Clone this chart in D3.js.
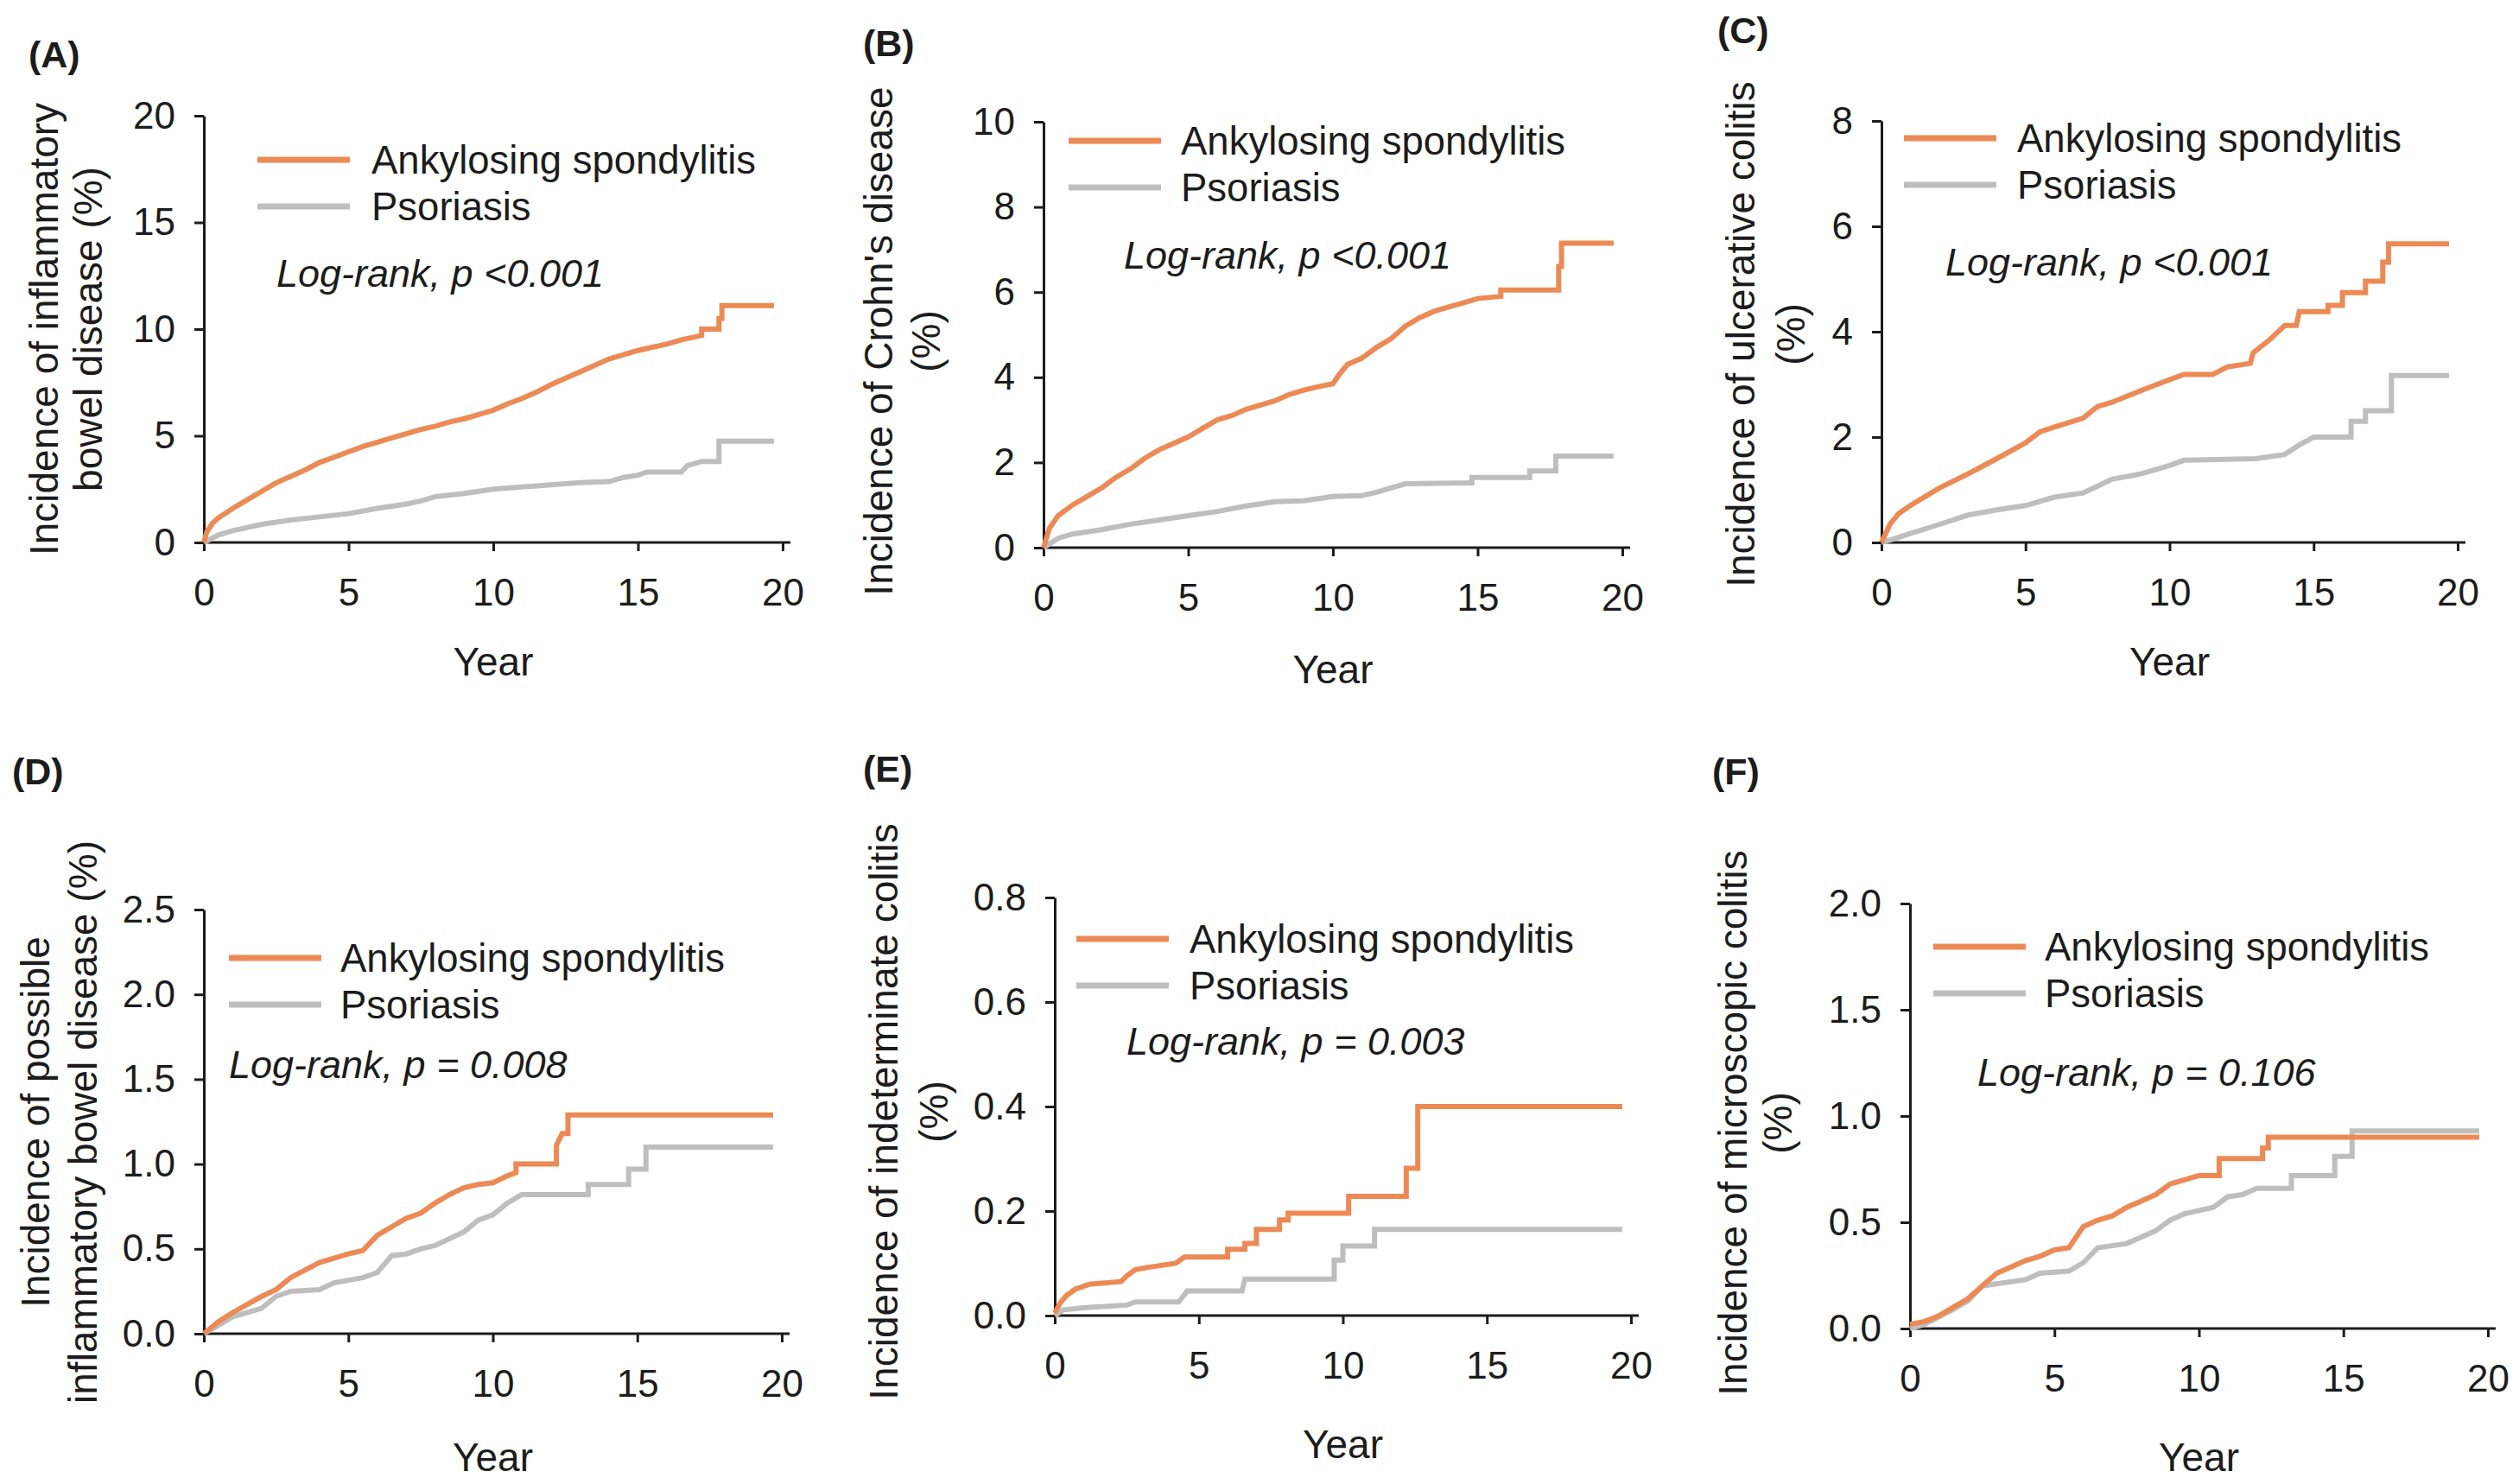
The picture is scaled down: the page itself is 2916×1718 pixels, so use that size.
<!DOCTYPE html>
<html>
<head>
<meta charset="utf-8">
<script src="https://cdn.jsdelivr.net/npm/d3@7"></script>
<style>
  body { margin: 0; background: #fff; }
  svg { display: block; font-family: 'Liberation Sans', Arial, sans-serif; }
</style>
</head>
<body>
<svg id="chart" width="2916" height="1718"></svg>
<script>
// cumulative incidence (%), [year, value]
const ibdAS = [[0,0],[0.1,0.5],[0.3,0.9],[0.5,1.15],[1,1.6],[1.5,2.0],[2,2.4],[2.5,2.8],[3,3.1],[3.5,3.4],[4,3.75],[4.5,4.0],[5,4.25],[5.5,4.5],[6,4.7],[6.5,4.9],[7,5.1],[7.5,5.3],[8,5.45],[8.5,5.65],[9,5.8],[9.5,6.0],[10,6.2],[10.5,6.5],[11,6.75],[11.5,7.05],[12,7.4],[12.5,7.7],[13,8.0],[13.5,8.3],[14,8.6],[14.5,8.8],[15,9.0],[15.5,9.15],[16,9.3],[16.5,9.5],[17.2,9.7],[17.2,10.0],[17.8,10.0],[17.8,10.5],[17.9,10.5],[17.9,11.1],[19.7,11.1]]
const ibdPso = [[0,0],[0.5,0.35],[1,0.55],[2,0.85],[3,1.05],[4,1.2],[5,1.35],[6,1.6],[7,1.8],[7.5,1.95],[8,2.15],[9,2.3],[10,2.5],[11,2.6],[12,2.7],[13,2.8],[14,2.85],[14.5,3.05],[15,3.15],[15.3,3.3],[16.5,3.3],[16.7,3.6],[17.2,3.8],[17.8,3.8],[17.8,4.75],[19.7,4.75]]

const cdAS = [[0,0],[0.2,0.45],[0.5,0.75],[1,1.0],[1.5,1.2],[2,1.4],[2.5,1.65],[3,1.85],[3.5,2.1],[4,2.3],[4.5,2.45],[5,2.6],[5.5,2.8],[6,3.0],[6.5,3.1],[7,3.25],[7.5,3.35],[8,3.45],[8.5,3.6],[9,3.7],[9.5,3.78],[10,3.85],[10.2,4.05],[10.5,4.3],[11,4.45],[11.5,4.7],[12,4.9],[12.5,5.2],[13,5.4],[13.5,5.55],[14,5.65],[14.5,5.75],[15,5.85],[15.8,5.9],[15.8,6.05],[17.8,6.05],[17.8,6.6],[17.9,6.6],[17.9,7.15],[19.7,7.15]]
const cdPso = [[0,0],[0.5,0.22],[1,0.32],[2,0.42],[3,0.55],[4,0.65],[5,0.75],[6,0.85],[7,0.98],[8,1.08],[9,1.1],[10,1.2],[11,1.22],[11.5,1.3],[12.5,1.5],[14.8,1.52],[14.8,1.65],[16.8,1.65],[16.8,1.8],[17.7,1.8],[17.7,2.15],[19.7,2.15]]

const ucAS = [[0,0],[0.3,0.35],[0.6,0.55],[1,0.7],[2,1.03],[3,1.3],[4,1.59],[5,1.89],[5.5,2.1],[6,2.19],[7,2.36],[7.5,2.58],[8,2.66],[9,2.88],[10,3.09],[10.5,3.19],[11.5,3.19],[12,3.33],[12.8,3.4],[12.9,3.6],[13.5,3.86],[14,4.12],[14.4,4.12],[14.5,4.38],[15.5,4.38],[15.5,4.5],[16,4.5],[16,4.74],[16.8,4.74],[16.8,4.96],[17.4,4.96],[17.4,5.32],[17.6,5.32],[17.6,5.67],[19.7,5.67]]
const ucPso = [[0,0],[0.5,0.08],[1,0.17],[2,0.34],[3,0.52],[4,0.62],[5,0.7],[6,0.86],[7,0.94],[7.5,1.07],[8,1.2],[9,1.3],[10,1.46],[10.5,1.56],[13,1.59],[14,1.67],[14.5,1.85],[15,2.0],[16.3,2.0],[16.3,2.3],[16.8,2.3],[16.8,2.5],[17.7,2.5],[17.7,3.17],[19.7,3.17]]

const pibdAS = [[0,0],[0.5,0.07],[1,0.125],[2,0.22],[2.5,0.26],[3,0.33],[4,0.42],[5,0.47],[5.5,0.49],[6,0.58],[6.5,0.63],[7,0.68],[7.5,0.71],[8,0.77],[8.5,0.82],[9,0.86],[9.5,0.88],[10,0.89],[10.5,0.93],[10.8,0.95],[10.8,1.0],[12.2,1.0],[12.2,1.11],[12.4,1.18],[12.6,1.18],[12.6,1.29],[19.7,1.29]]
const pibdPso = [[0,0],[0.5,0.05],[1,0.1],[2,0.15],[2.5,0.22],[3,0.25],[4,0.26],[4.5,0.3],[5.5,0.33],[6,0.36],[6.5,0.46],[7,0.47],[7.5,0.5],[8,0.52],[8.5,0.56],[9,0.6],[9.5,0.67],[10,0.7],[10.5,0.77],[11,0.82],[13.3,0.82],[13.3,0.88],[14.7,0.88],[14.7,0.97],[15.3,0.97],[15.3,1.1],[19.7,1.1]]

const icAS = [[0,0.005],[0.2,0.025],[0.4,0.038],[0.7,0.05],[1.2,0.06],[2.3,0.065],[2.5,0.076],[2.8,0.088],[3.2,0.092],[4.2,0.1],[4.5,0.112],[6,0.112],[6,0.127],[6.6,0.127],[6.6,0.138],[7,0.138],[7,0.165],[7.8,0.165],[7.8,0.183],[8.1,0.183],[8.1,0.196],[10.2,0.196],[10.2,0.228],[12.2,0.228],[12.2,0.282],[12.6,0.282],[12.6,0.4],[19.7,0.4]]
const icPso = [[0,0],[0.3,0.011],[1,0.015],[2.5,0.02],[2.8,0.026],[4.3,0.026],[4.6,0.047],[6.5,0.047],[6.6,0.07],[9.7,0.07],[9.7,0.106],[10,0.106],[10,0.133],[11.1,0.133],[11.1,0.165],[19.7,0.165]]

const mcAS = [[0,0.02],[0.5,0.033],[1,0.06],[1.5,0.1],[2,0.14],[2.5,0.2],[3,0.26],[3.5,0.29],[4,0.32],[4.5,0.34],[5,0.37],[5.5,0.38],[6,0.48],[6.5,0.51],[7,0.53],[7.5,0.57],[8,0.6],[8.5,0.63],[9,0.68],[9.5,0.7],[10,0.72],[10.7,0.72],[10.7,0.8],[12.2,0.8],[12.2,0.85],[12.4,0.85],[12.4,0.9],[19.7,0.9]]
const mcPso = [[0,0],[0.5,0.02],[1,0.055],[1.5,0.09],[2,0.13],[2.5,0.2],[3,0.21],[4,0.23],[4.5,0.26],[5.5,0.27],[6,0.31],[6.5,0.38],[7.5,0.4],[8,0.43],[8.5,0.46],[9,0.51],[9.5,0.54],[10.5,0.57],[11,0.62],[11.5,0.63],[12,0.66],[13.2,0.66],[13.2,0.72],[14.7,0.72],[14.7,0.81],[15.3,0.81],[15.3,0.93],[19.7,0.93]]

const xTicks = [0, 5, 10, 15, 20]
const yTicksA = [0, 5, 10, 15, 20]
const yTicksB = [0, 2, 4, 6, 8, 10]
const yTicksC = [0, 2, 4, 6, 8]
const yTicksD = [0, 0.5, 1.0, 1.5, 2.0, 2.5]
const yTicksE = [0, 0.2, 0.4, 0.6, 0.8]
const yTicksF = [0, 0.5, 1.0, 1.5, 2.0]

const seriesNames = ['Ankylosing spondylitis', 'Psoriasis']
const panelLabels = ['(A)', '(B)', '(C)', '(D)', '(E)', '(F)']
const pTexts = ['Log-rank, p <0.001', 'Log-rank, p <0.001', 'Log-rank, p <0.001',
  'Log-rank, p = 0.008', 'Log-rank, p = 0.003', 'Log-rank, p = 0.106']
const yTitles = [
  ['Incidence of inflammatory', 'bowel disease (%)'],
  ["Incidence of Crohn's disease", '(%)'],
  ['Incidence of ulcerative colitis', '(%)'],
  ['Incidence of possible', 'inflammatory bowel disease (%)'],
  ['Incidence of indeterminate colitis', '(%)'],
  ['Incidence of microscopic colitis', '(%)']
]

const orange = '#EC8A55'
const grey = '#BEBEBE'
const ink = '#1c1c1c'

// layout of each panel in page pixels
const panels = [
  { as: ibdAS, pso: ibdPso, yTicks: yTicksA, fmt: d3.format('d'),
    left: 236, right: 906, bottom: 628, top: 134, lab: [33, 78], titleX: [51, 102], titleY: 381,
    leg: [62, 51, 194], lr: [84, 198], yearY: 766 },
  { as: cdAS, pso: cdPso, yTicks: yTicksB, fmt: d3.format('d'),
    left: 1208, right: 1878, bottom: 634, top: 141, lab: [999, 65], titleX: [1017, 1072], titleY: 395,
    leg: [29, 22, 159], lr: [93, 170], yearY: 775 },
  { as: ucAS, pso: ucPso, yTicks: yTicksC, fmt: d3.format('d'),
    left: 2178, right: 2845, bottom: 628, top: 140, lab: [1988, 50], titleX: [2015, 2073], titleY: 387,
    leg: [26, 20, 157], lr: [74, 179], yearY: 766 },
  { as: pibdAS, pso: pibdPso, yTicks: yTicksD, fmt: d3.format('.1f'),
    left: 236, right: 905, bottom: 1544, top: 1053, lab: [14, 908], titleX: [41, 96], titleY: 1299,
    leg: [29, 56, 158], lr: [29, 195], yearY: 1687 },
  { as: icAS, pso: icPso, yTicks: yTicksE, fmt: d3.format('.1f'),
    left: 1221, right: 1888, bottom: 1523, top: 1039, lab: [999, 905], titleX: [1023, 1081], titleY: 1287,
    leg: [25, 48, 156], lr: [83, 182], yearY: 1672 },
  { as: mcAS, pso: mcPso, yTicks: yTicksF, fmt: d3.format('.1f'),
    left: 2211, right: 2880, bottom: 1538, top: 1046, lab: [1982, 908], titleX: [2006, 2058], titleY: 1300,
    leg: [27, 50, 156], lr: [78, 211], yearY: 1687 }
]

const svg = d3.select('#chart')
svg.append('rect').attr('width', 2916).attr('height', 1718).attr('fill', '#fff')

panels.forEach((p, i) => {
  const x = d3.scaleLinear().domain([0, 20]).range([p.left, p.right])
  const yMax = p.yTicks[p.yTicks.length - 1]
  const y = d3.scaleLinear().domain([0, yMax]).range([p.bottom, p.top])
  const g = svg.append('g')

  // panel letter
  g.append('text')
    .attr('x', p.lab[0]).attr('y', p.lab[1])
    .attr('font-size', 43).attr('font-weight', 'bold').attr('fill', ink)
    .text(panelLabels[i])

  // y axis
  const yAxis = d3.axisLeft(y).tickValues(p.yTicks).tickFormat(p.fmt)
    .tickSize(11).tickSizeOuter(0).tickPadding(22)
  const gy = g.append('g').attr('transform', `translate(${p.left},0)`).call(yAxis)
  gy.selectAll('text').attr('font-size', 44).attr('fill', ink)

  // x axis, line runs a little past 20
  const xAxis = d3.axisBottom(x).tickValues(xTicks).tickSize(10).tickSizeOuter(0).tickPadding(32)
  const gx = g.append('g').attr('transform', `translate(0,${p.bottom})`).call(xAxis)
  gx.select('.domain').attr('d', `M${x(0)},0H${x(20) + 9}`)
  gx.selectAll('text').attr('font-size', 44).attr('fill', ink)

  g.selectAll('.domain, .tick line').attr('stroke', ink).attr('stroke-width', 3)
  g.selectAll('.tick text').attr('font-family', "'Liberation Sans', Arial, sans-serif")

  g.append('text')
    .attr('x', (p.left + p.right) / 2).attr('y', p.yearY).attr('dy', '0.35em')
    .attr('text-anchor', 'middle').attr('font-size', 46).attr('fill', ink)
    .text('Year')

  // rotated axis title, two lines
  yTitles[i].forEach((t, k) => {
    g.append('text')
      .attr('transform', `translate(${p.titleX[k]},${p.titleY}) rotate(-90)`)
      .attr('text-anchor', 'middle').attr('dy', '0.35em')
      .attr('font-size', 46).attr('fill', ink)
      .text(t)
  })

  // curves
  const line = d3.line().x(d => x(d[0])).y(d => y(d[1]))
  g.append('path').datum(p.pso).attr('d', line)
    .attr('fill', 'none').attr('stroke', grey).attr('stroke-width', 6)
    .attr('stroke-linejoin', 'miter')
  g.append('path').datum(p.as).attr('d', line)
    .attr('fill', 'none').attr('stroke', orange).attr('stroke-width', 6)
    .attr('stroke-linejoin', 'miter')

  // legend
  const lx = p.left + p.leg[0]
  const ly = p.top + p.leg[1]
  ;[orange, grey].forEach((c, k) => {
    g.append('line')
      .attr('x1', lx).attr('x2', lx + 107)
      .attr('y1', ly + k * 54).attr('y2', ly + k * 54)
      .attr('stroke', c).attr('stroke-width', 7)
    g.append('text')
      .attr('x', p.left + p.leg[2]).attr('y', ly + k * 54 + 16)
      .attr('font-size', 45.5).attr('fill', ink)
      .text(seriesNames[k])
  })

  g.append('text')
    .attr('x', p.left + p.lr[0]).attr('y', p.top + p.lr[1])
    .attr('font-size', 45).attr('font-style', 'italic').attr('fill', ink)
    .text(pTexts[i])
})
</script>
</body>
</html>
